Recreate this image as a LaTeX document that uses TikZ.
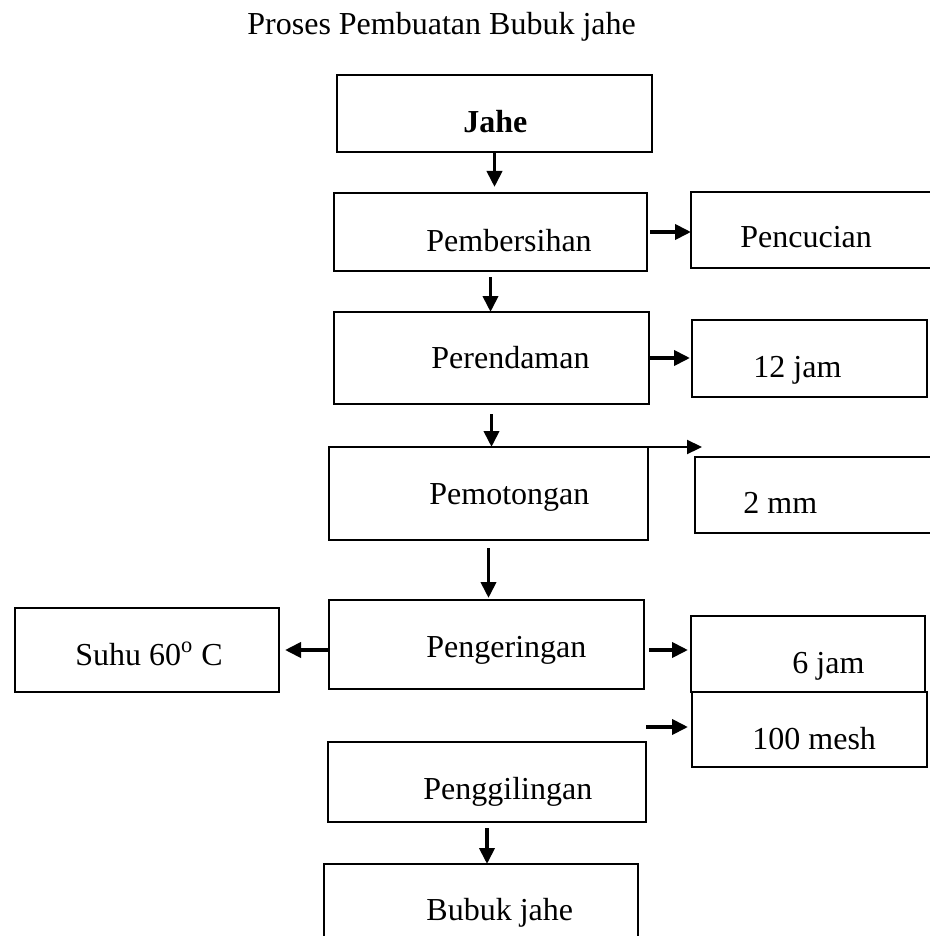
\documentclass[tikz,border=0pt]{standalone}
\usepackage{fontspec}
\setmainfont{Liberation Serif}
\usetikzlibrary{arrows.meta,fit}
\tikzset{
  box/.style={draw, line width=1.35pt, inner sep=0pt, outer sep=0pt},
  thinbox/.style={draw, line width=0.9pt, inner sep=0pt, outer sep=0pt},
  lbl/.style={anchor=base west, inner sep=0pt, font=\fontsize{16}{19}\selectfont},
  arr/.style={line width=1.9pt, -{Triangle[length=8pt,width=7.5pt]}},
  thinarr/.style={line width=1.1pt, -{Triangle[length=7.5pt,width=7pt]}}
}
\begin{document}
\begin{tikzpicture}[x=0.5pt,y=-0.5pt]
\useasboundingbox (0,0) rectangle (930,936);
% title
\node[lbl] (title) at (247,35) {Proses Pembuatan Bubuk jahe};
% boxes
\node[box, fit={(337,75) (652,152)}] (jahe) {};
\node[box, fit={(334,193) (647,271)}] (pemb) {};
\node[box, fit={(691,192) (960,268)}] (cuci) {};
\node[box, fit={(334,312) (649,404)}] (peren) {};
\node[box, fit={(692,320) (927,397)}] (jam12) {};
\node[box, fit={(329,447) (648,540)}] (pemot) {};
\node[thinbox, fit={(695,457) (960,533)}] (mm2) {};
\node[box, fit={(15,608) (279,692)}] (suhu) {};
\node[box, fit={(329,600) (644,689)}] (peng) {};
\node[box, fit={(691,616) (925,692)}] (jam6) {};
\node[box, fit={(692,692) (927,767)}] (mesh) {};
\node[box, fit={(328,742) (646,822)}] (giling) {};
\node[box, fit={(324,864) (638,960)}] (bubuk) {};
% labels
\node[lbl, font=\fontsize{16}{19}\selectfont\bfseries] (tjahe) at (463,133) {Jahe};
\node[lbl] (tpemb) at (426,251) {Pembersihan};
\node[lbl] (tcuci) at (740,248) {Pencucian};
\node[lbl] (tperen) at (431,368) {Perendaman};
\node[lbl] (tjam12) at (753,377) {12 jam};
\node[lbl] (tpemot) at (429,504) {Pemotongan};
\node[lbl] (tmm2) at (743,513) {2 mm};
\node[lbl] (tsuhu) at (75,665) {Suhu 60\textsuperscript{o} C};
\node[lbl] (tpeng) at (426,657) {Pengeringan};
\node[lbl] (tjam6) at (792,673) {6 jam};
\node[lbl] (tmesh) at (752,749) {100 mesh};
\node[lbl] (tgiling) at (423,799) {Penggilingan};
\node[lbl] (tbubuk) at (426,920) {Bubuk jahe};
% vertical arrows
\draw[arr, shorten >=3pt] (jahe.south) -- (jahe.south |- pemb.north);
\draw[arr, shorten <=3pt] (pemb.south) -- (pemb.south |- peren.north);
\draw[arr, shorten <=5pt] (peren.south) -- (peren.south |- pemot.north);
\draw[arr, shorten <=4pt, shorten >=1pt] (pemot.south) -- (pemot.south |- peng.north);
\draw[arr, shorten <=3pt] (giling.south) -- (giling.south |- bubuk.north);
% horizontal arrows
\draw[arr, shorten <=1.5pt] (pemb.east) -- (pemb.east -| cuci.west);
\draw[arr, shorten <=0.5pt, shorten >=1pt] (peren.east) -- (peren.east -| jam12.west);
\coordinate (tip2) at (702,447);
\draw[thinarr] (pemot.north east) -- (tip2);
\draw[arr, shorten >=3pt] (peng.west |- suhu.east) -- (suhu.east);
\draw[arr, shorten <=2.5pt, shorten >=1.5pt] (peng.east |- suhu.east) -- (jam6.west |- suhu.east);
\coordinate (m0) at (646,727);
\draw[arr, shorten >=2pt] (m0) -- (mesh.west |- m0);
\end{tikzpicture}
\end{document}
